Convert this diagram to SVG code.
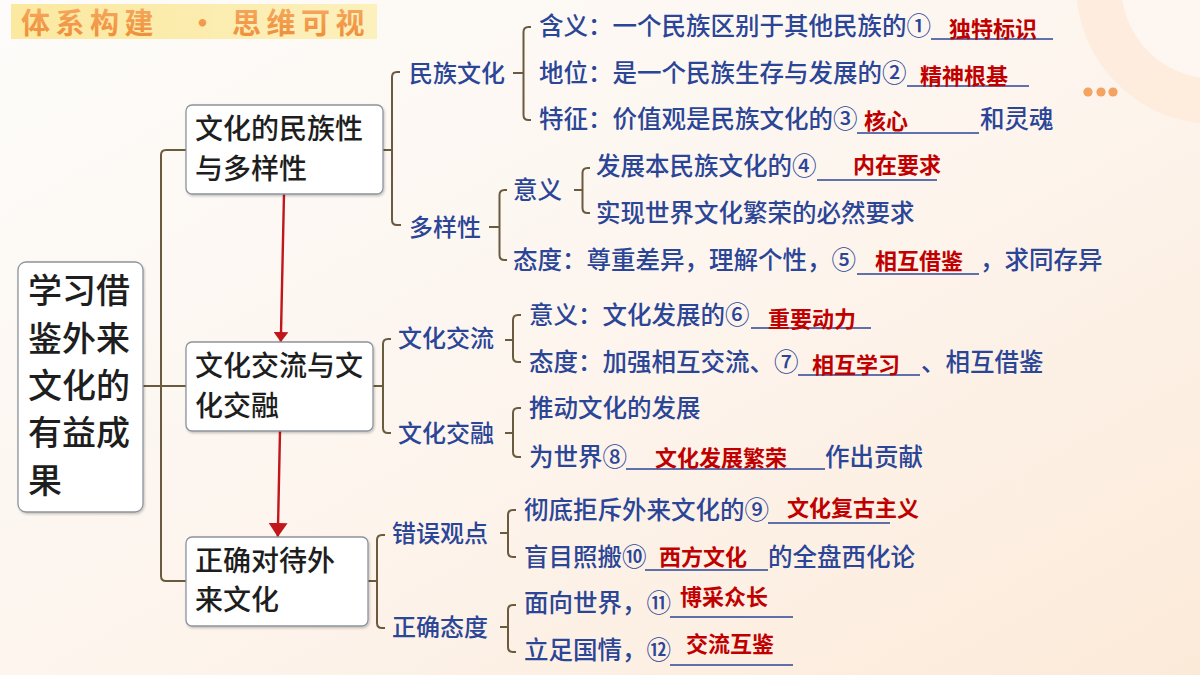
<svg xmlns="http://www.w3.org/2000/svg" width="1200" height="675" viewBox="0 0 1200 675">
<defs>
<linearGradient id="bg" x1="0" y1="0" x2="1" y2="1">
<stop offset="0" stop-color="#fdfcfa"/>
<stop offset="0.5" stop-color="#fdf5ee"/>
<stop offset="1" stop-color="#fcead9"/>
</linearGradient>
<linearGradient id="band" x1="0" y1="0" x2="1" y2="0">
<stop offset="0" stop-color="#fbe9a0"/>
<stop offset="1" stop-color="#fcf0bc"/>
</linearGradient>
<linearGradient id="ttl" x1="0" y1="0" x2="0" y2="1">
<stop offset="0" stop-color="#f6ae66"/>
<stop offset="1" stop-color="#ee8a35"/>
</linearGradient>
<filter id="sh" x="-10%" y="-10%" width="120%" height="130%">
<feDropShadow dx="1" dy="1.5" stdDeviation="1.2" flood-color="#000" flood-opacity="0.22"/>
</filter>
<marker id="ah1" viewBox="0 0 10 15" refX="10" refY="7.5" markerWidth="10" markerHeight="15" orient="auto" markerUnits="userSpaceOnUse">
<path d="M0,0 L10,7.5 L0,15 z" fill="#c0161c"/>
</marker>
<marker id="ah2" viewBox="0 0 14 19" refX="14" refY="9.5" markerWidth="14" markerHeight="19" orient="auto" markerUnits="userSpaceOnUse">
<path d="M0,0 L14,9.5 L0,19 z" fill="#c0161c"/>
</marker>
</defs>
<style>
.box{fill:#fff;stroke:#8d949c;stroke-width:1.3}
.bt{font-family:"Noto Sans CJK SC","Noto Sans",sans-serif;fill:#1e1e1e;font-weight:500}
.b{font-family:"Noto Sans CJK SC","Noto Sans",sans-serif;fill:#2b4597;font-size:24.5px;font-weight:500}
.l2{font-family:"Noto Sans CJK SC","Noto Sans",sans-serif;fill:#2b4597;font-size:24px;font-weight:500}
.r{font-family:"Noto Sans CJK SC","Noto Sans",sans-serif;fill:#c00000;font-size:22px;font-weight:bold}
.c{fill:none;stroke:#6b5b3e;stroke-width:2;stroke-linejoin:round}
.u{stroke:#2b4597;stroke-width:1.6}
.ar{stroke:#c0161c;stroke-width:2.4;fill:none}
</style>
<rect width="1200" height="675" fill="url(#bg)"/>
<circle cx="1215" cy="-15" r="139" fill="#fde9d8" opacity="0.75"/>
<circle cx="1215" cy="-15" r="94" fill="#fef7f1"/>
<circle cx="1088" cy="92" r="4.6" fill="#f5a360"/>
<circle cx="1101" cy="92" r="4.6" fill="#f5a360"/>
<circle cx="1113" cy="92" r="4.6" fill="#f5a360"/>
<rect x="11" y="4" width="366" height="35" fill="url(#band)"/>
<text font-family="'Noto Sans CJK SC',sans-serif" font-size="29" font-weight="bold" fill="url(#ttl)" y="34"><tspan x="21" letter-spacing="5.5">体系构建</tspan><tspan x="188">•</tspan><tspan x="232" letter-spacing="5.5">思维可视</tspan></text>

<g id="connectors">
<path class="c" d="M143,386 H161"/>
<path class="c" d="M186,150 H166 Q161,150 161,155 V576 Q161,581 166,581 H186"/>
<path class="c" d="M161,386 H186"/>
<path class="c" d="M383,150 H392"/>
<path class="c" d="M400,72 H397 Q392,72 392,77 V220 Q392,225 397,225 H401"/>
<path class="c" d="M513,73 H523.5"/>
<path class="c" d="M531,27 H528.5 Q523.5,27 523.5,32 V115 Q523.5,120 528.5,120 H531"/>
<path class="c" d="M489,227 H499.5"/>
<path class="c" d="M507,190 H504.5 Q499.5,190 499.5,195 V255 Q499.5,260 504.5,260 H507"/>
<path class="c" d="M574,190 H582.5"/>
<path class="c" d="M590,168 H587.5 Q582.5,168 582.5,173 V208 Q582.5,213 587.5,213 H590"/>
<path class="c" d="M373,386 H383"/>
<path class="c" d="M391,339 H388 Q383,339 383,344 V428 Q383,433 388,433 H391"/>
<path class="c" d="M505,340 H513"/>
<path class="c" d="M521,315 H518 Q513,315 513,320 V357 Q513,362 518,362 H521"/>
<path class="c" d="M505,433 H513"/>
<path class="c" d="M521,408 H518 Q513,408 513,413 V452 Q513,457 518,457 H521"/>
<path class="c" d="M368,581 H377"/>
<path class="c" d="M385,535 H382 Q377,535 377,540 V623 Q377,628 382,628 H385"/>
<path class="c" d="M500,533 H508"/>
<path class="c" d="M516,510 H513 Q508,510 508,515 V552 Q508,557 513,557 H516"/>
<path class="c" d="M500,627 H508"/>
<path class="c" d="M516,605 H513 Q508,605 508,610 V647 Q508,652 513,652 H516"/>
<path class="ar" d="M284,194 L280.8,342" marker-end="url(#ah1)"/>
<path class="ar" d="M280,431 L277.8,537" marker-end="url(#ah2)"/>
</g>

<g id="root">
<rect class="box" x="18" y="262" width="125" height="250" rx="8" filter="url(#sh)"/>
<text class="bt" font-size="34" x="28"><tspan x="28" y="303">学习借</tspan><tspan x="28" y="351">鉴外来</tspan><tspan x="28" y="398">文化的</tspan><tspan x="28" y="445">有益成</tspan><tspan x="28" y="493">果</tspan></text>
</g>

<g id="n1">
<rect class="box" x="186" y="105" width="197" height="89" rx="6" filter="url(#sh)"/>
<text class="bt" font-size="28"><tspan x="195" y="139">文化的民族性</tspan><tspan x="195" y="179">与多样性</tspan></text>
</g>
<g id="n2">
<rect class="box" x="186" y="342" width="187" height="89" rx="6" filter="url(#sh)"/>
<text class="bt" font-size="28"><tspan x="195" y="376">文化交流与文</tspan><tspan x="195" y="416">化交融</tspan></text>
</g>
<g id="n3">
<rect class="box" x="186" y="537" width="182" height="89" rx="6" filter="url(#sh)"/>
<text class="bt" font-size="28"><tspan x="195" y="571">正确对待外</tspan><tspan x="195" y="610">来文化</tspan></text>
</g>

<g id="minzu">
<text class="l2" x="409" y="82">民族文化</text>
<text class="b" x="539" y="35">含义：一个民族区别于其他民族的①</text>
<line class="u" x1="931" y1="39" x2="1053" y2="39"/>
<text class="r" x="949" y="37">独特标识</text>
<text class="b" x="539" y="82">地位：是一个民族生存与发展的②</text>
<line class="u" x1="907" y1="86" x2="1029" y2="86"/>
<text class="r" x="920" y="84">精神根基</text>
<text class="b" x="539" y="128">特征：价值观是民族文化的③</text>
<line class="u" x1="857" y1="133" x2="979" y2="133"/>
<text class="r" x="864" y="129">核心</text>
<text class="b" x="980" y="128">和灵魂</text>
</g>

<g id="duoyang">
<text class="l2" x="409" y="236">多样性</text>
<text class="b" x="513" y="199">意义</text>
<text class="b" x="596" y="175">发展本民族文化的④</text>
<line class="u" x1="817" y1="180" x2="937" y2="180"/>
<text class="r" x="853" y="173">内在要求</text>
<text class="b" x="596" y="222">实现世界文化繁荣的必然要求</text>
<text class="b" x="513" y="269">态度：尊重差异，理解个性，⑤</text>
<line class="u" x1="857" y1="274" x2="979" y2="274"/>
<text class="r" x="875" y="269">相互借鉴</text>
<text class="b" x="980" y="269">，求同存异</text>
</g>

<g id="jiaoliu">
<text class="l2" x="398" y="347">文化交流</text>
<text class="b" x="529" y="324">意义：文化发展的⑥</text>
<line class="u" x1="751" y1="328" x2="871" y2="328"/>
<text class="r" x="768" y="327">重要动力</text>
<text class="b" x="529" y="371">态度：加强相互交流、⑦</text>
<line class="u" x1="798" y1="375" x2="920" y2="375"/>
<text class="r" x="812" y="373">相互学习</text>
<text class="b" x="921" y="371">、相互借鉴</text>
</g>

<g id="jiaorong">
<text class="l2" x="398" y="442">文化交融</text>
<text class="b" x="529" y="417">推动文化的发展</text>
<text class="b" x="529" y="466">为世界⑧</text>
<line class="u" x1="626" y1="469" x2="825" y2="469"/>
<text class="r" x="655" y="466">文化发展繁荣</text>
<text class="b" x="825" y="466">作出贡献</text>
</g>

<g id="cuowu">
<text class="l2" x="392" y="542">错误观点</text>
<text class="b" x="524" y="519">彻底拒斥外来文化的⑨</text>
<line class="u" x1="768" y1="523" x2="890" y2="523"/>
<text class="r" x="787" y="516">文化复古主义</text>
<text class="b" x="524" y="566">盲目照搬⑩</text>
<line class="u" x1="645" y1="570" x2="768" y2="570"/>
<text class="r" x="659" y="565">西方文化</text>
<text class="b" x="768" y="566">的全盘西化论</text>
</g>

<g id="zhengque">
<text class="l2" x="392" y="636">正确态度</text>
<text class="b" x="524" y="612">面向世界，⑪</text>
<line class="u" x1="670" y1="617" x2="793" y2="617"/>
<text class="r" x="680" y="605">博采众长</text>
<text class="b" x="524" y="659">立足国情，⑫</text>
<line class="u" x1="670" y1="665" x2="793" y2="665"/>
<text class="r" x="686" y="652">交流互鉴</text>
</g>
</svg>
